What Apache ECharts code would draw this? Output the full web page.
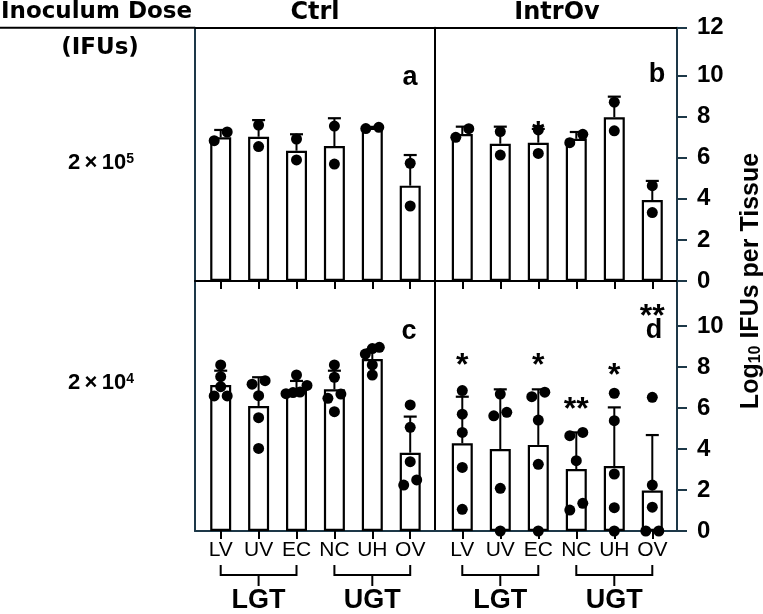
<!DOCTYPE html>
<html><head><meta charset="utf-8">
<script src="https://cdn.jsdelivr.net/npm/echarts@6/dist/echarts.min.js"></script>
<style>html,body{margin:0;padding:0;background:#fff}#c{width:763px;height:614px}</style>
</head><body><div id="c"></div>
<script>
// ---------------- data ----------------
const categories = ['LV', 'UV', 'EC', 'NC', 'UH', 'OV'];
const groupNames = ['LGT', 'UGT'];
const groupFirst = [0, 3];
const groupLast = [2, 5];
const columnTitles = ['Ctrl', 'IntrOv'];
const rowBase = ['2\u2009×\u200910', '2\u2009×\u200910'];
const rowExp = ['5', '4'];
const panelLetters = ['a', 'b', 'c', 'd'];
const topTickValues = [0, 2, 4, 6, 8, 10, 12];
const bottomTickValues = [0, 2, 4, 6, 8, 10];

// panel a: Ctrl, 2x10^5
const meanA = [6.99, 7.02, 6.34, 6.57, 7.45, 4.64];
const sdA = [0.36, 0.81, 0.80, 1.35, 0.05, 1.49];
const ptsA = [[6.83, 7.25], [7.59, 6.54], [6.91, 5.89], [7.54, 5.69], [7.42, 7.48], [5.73, 3.65]];
// panel b: IntrOv, 2x10^5
const meanB = [7.15, 6.68, 6.73, 6.92, 7.97, 3.94];
const sdB = [0.36, 0.83, 0.67, 0.33, 1.00, 0.93];
const ptsB = [[6.99, 7.41], [7.27, 6.13], [7.35, 6.21], [6.73, 7.14], [8.70, 7.31], [4.64, 3.33]];
// panel c: Ctrl, 2x10^4
const meanC = [7.12, 6.10, 6.88, 6.91, 8.39, 3.82];
const sdC = [0.70, 1.40, 0.44, 0.91, 0.47, 1.76];
const ptsC = [[8.10, 7.53, 7.04, 6.59, 6.59], [7.33, 7.16, 6.60, 5.53, 4.03], [7.61, 7.10, 6.78, 6.75, 6.70],
              [8.10, 7.50, 6.68, 6.47, 5.82], [8.96, 8.90, 8.63, 8.10, 7.61], [6.15, 5.06, 3.38, 2.24, 2.49]];
// panel d: IntrOv, 2x10^4
const meanD = [4.28, 4.00, 4.20, 3.02, 3.17, 1.97];
const sdD = [2.27, 2.91, 2.71, 1.79, 2.86, 2.71];
const ptsD = [[6.85, 5.70, 4.81, 3.10, 1.06], [6.68, 5.62, 5.79, 2.08, 0], [6.77, 6.55, 5.41, 3.25, 0],
              [4.81, 4.65, 3.43, 1.35, 1.02], [6.72, 5.38, 2.78, 1.14, 0], [6.52, 2.24, 1.16, 0, 0]];
// significance marks
const sigCatB = [2]; const sigTextB = ['*']; const sigYB = [7.51];
const sigCatD = [0, 2, 3, 4, 5]; const sigTextD = ['*', '*', '**', '*', '**']; const sigYD = [8.44, 8.44, 6.3, 7.95, 10.8];

// ---------------- layout ----------------
const NAVY = '#1d3848';
const FL = 195, FM = 435, FR = 677, FT = 27.7, FMY = 281, FB = 531;
const TOP_MAX = 12.326, BOT_MAX = 12.195;
const LEFT_X = [-0.678, 5.654], RIGHT_X = [-0.718, 5.65];
const ROW_T = 9, SPACING2 = 13, SPACING3 = 7, DOT_R = 5.5;

const panels = [
  {mean: meanA, sd: sdA, pts: ptsA, sigC: [], sigT: [], sigY: [], pxu: (FMY - FT) / TOP_MAX},
  {mean: meanB, sd: sdB, pts: ptsB, sigC: sigCatB, sigT: sigTextB, sigY: sigYB, pxu: (FMY - FT) / TOP_MAX},
  {mean: meanC, sd: sdC, pts: ptsC, sigC: [], sigT: [], sigY: [], pxu: (FB - FMY) / BOT_MAX},
  {mean: meanD, sd: sdD, pts: ptsD, sigC: sigCatD, sigT: sigTextD, sigY: sigYD, pxu: (FB - FMY) / BOT_MAX}
];

// simple row-based beeswarm: close values are spread side by side
function swarm(values, pxu) {
  const order = values.map((v, i) => i).sort((a, b) => values[a] - values[b]);
  const dx = values.map(() => 0);
  let row = [];
  const flush = () => {
    const sp = row.length > 2 ? SPACING3 : SPACING2;
    row.forEach((k, j) => { dx[k] = (j - (row.length - 1) / 2) * sp; });
  };
  order.forEach(k => {
    if (row.length && (values[k] - values[row[0]]) * pxu < ROW_T) row.push(k);
    else { flush(); row = [k]; }
  });
  flush();
  return dx;
}

const grid = [
  {left: FL, top: FT, width: FM - FL, height: FMY - FT},
  {left: FM, top: FT, width: FR - FM, height: FMY - FT},
  {left: FL, top: FMY, width: FM - FL, height: FB - FMY},
  {left: FM, top: FMY, width: FR - FM, height: FB - FMY}
];

const catIdx = categories.map((c, i) => i);
function xAx(gi, opts) {
  const r = (gi % 2 === 0) ? LEFT_X : RIGHT_X;
  return Object.assign({
    type: 'value', gridIndex: gi, min: r[0], max: r[1], splitLine: {show: false},
    axisLine: {show: true, onZero: false, lineStyle: {color: '#000', width: 2}},
    axisTick: {show: false}, axisLabel: {show: false}
  }, opts);
}
const catLabel = {show: true, customValues: catIdx, formatter: v => categories[Math.round(v)], margin: 9,
                  color: '#000', fontSize: 21, fontFamily: 'Liberation Sans'};
const xAxis = [
  xAx(0, {axisTick: {show: true, customValues: catIdx, length: 8, lineStyle: {color: '#000', width: 2}}}),
  xAx(1, {axisTick: {show: true, customValues: catIdx, length: 8, lineStyle: {color: '#000', width: 2}}}),
  xAx(2, {axisLine: {show: true, onZero: false, lineStyle: {color: NAVY, width: 2}},
          axisTick: {show: true, customValues: catIdx, length: 8, lineStyle: {color: '#000', width: 2}},
          axisLabel: catLabel}),
  xAx(3, {axisLine: {show: true, onZero: false, lineStyle: {color: NAVY, width: 2}},
          axisTick: {show: true, customValues: catIdx, length: 8, lineStyle: {color: '#000', width: 2}},
          axisLabel: catLabel}),
  xAx(0, {position: 'top'}),
  xAx(1, {position: 'top'})
];

function yAx(gi, opts) {
  return Object.assign({
    type: 'value', gridIndex: gi, min: 0, max: gi < 2 ? TOP_MAX : BOT_MAX, splitLine: {show: false},
    axisLine: {show: true, onZero: false, lineStyle: {color: NAVY, width: 2}},
    axisTick: {show: false}, axisLabel: {show: false}
  }, opts);
}
const tickLabelStyle = {color: '#000', fontSize: 24, fontWeight: 'bold', fontFamily: 'Liberation Sans', margin: 20};
// the top tick of the upper panels sits on the frame's top edge
const topTickPos = topTickValues.map((v, i) => i === topTickValues.length - 1 ? TOP_MAX : v);
const yAxis = [
  yAx(0, {}),
  yAx(1, {axisLine: {show: true, onZero: false, lineStyle: {color: '#000', width: 2}}}),
  yAx(2, {}),
  yAx(3, {axisLine: {show: true, onZero: false, lineStyle: {color: '#000', width: 2}}}),
  yAx(1, {position: 'right',
          axisTick: {show: true, customValues: topTickPos, length: 10, lineStyle: {color: NAVY, width: 2}},
          axisLabel: Object.assign({show: true, customValues: topTickPos,
            formatter: v => {
              let best = 0;
              topTickPos.forEach((t, i) => { if (Math.abs(t - v) < Math.abs(topTickPos[best] - v)) best = i; });
              return String(topTickValues[best]);
            }}, tickLabelStyle)}),
  yAx(3, {position: 'right',
          axisTick: {show: true, customValues: bottomTickValues, length: 10, lineStyle: {color: NAVY, width: 2}},
          axisLabel: Object.assign({show: true, customValues: bottomTickValues, formatter: v => String(Math.round(v))}, tickLabelStyle)})
];

const series = [];
panels.forEach((p, gi) => {
  series.push({
    type: 'bar', xAxisIndex: gi, yAxisIndex: gi, barWidth: 21, z: 2, silent: true,
    data: p.mean.map((m, i) => [i, m]),
    itemStyle: {color: '#fff', borderColor: '#000', borderWidth: 2.2}
  });
  series.push({
    type: 'custom', xAxisIndex: gi, yAxisIndex: gi, z: 3, silent: true,
    data: p.mean.map((m, i) => [i, m, p.sd[i]]), encode: {x: 0, y: 1},
    renderItem: (params, api) => {
      const x = api.value(0), m = api.value(1), s = api.value(2);
      const b = api.coord([x, m]), t = api.coord([x, m + s]);
      return {type: 'group', children: [
        {type: 'line', shape: {x1: b[0], y1: b[1], x2: t[0], y2: t[1]}, style: {stroke: '#000', lineWidth: 2}},
        {type: 'line', shape: {x1: t[0] - 6.5, y1: t[1], x2: t[0] + 6.5, y2: t[1]}, style: {stroke: '#000', lineWidth: 2.2}}
      ]};
    }
  });
  const dots = [];
  p.pts.forEach((vals, i) => {
    const dx = swarm(vals, p.pxu);
    vals.forEach((v, k) => dots.push([i, v, dx[k]]));
  });
  series.push({
    type: 'custom', xAxisIndex: gi, yAxisIndex: gi, z: 4, silent: true, clip: false,
    data: dots, encode: {x: 0, y: 1},
    renderItem: (params, api) => {
      const c = api.coord([api.value(0), api.value(1)]);
      return {type: 'circle', shape: {cx: c[0] + api.value(2), cy: c[1], r: DOT_R}, style: {fill: '#000'}};
    }
  });
  if (p.sigC.length) {
    series.push({
      type: 'custom', xAxisIndex: gi, yAxisIndex: gi, z: 5, silent: true, clip: false,
      data: p.sigC.map((c, k) => [c, p.sigY[k], k]), encode: {x: 0, y: 1},
      renderItem: (params, api) => {
        const c = api.coord([api.value(0), api.value(1)]);
        return {type: 'text', x: c[0], y: c[1] + 8, style: {text: p.sigT[api.value(2)], fill: '#000',
          font: 'bold 32px "Liberation Sans"', textAlign: 'center', textVerticalAlign: 'middle'}};
      }
    });
  }
  if (gi >= 2) {
    series.push({
      type: 'custom', xAxisIndex: gi, yAxisIndex: gi, z: 5, silent: true, clip: false,
      data: groupNames.map((g, k) => [groupFirst[k], groupLast[k], k]),
      renderItem: (params, api) => {
        const a = api.coord([api.value(0), 0]), b = api.coord([api.value(1), 0]);
        const y0 = a[1], mid = (a[0] + b[0]) / 2;
        return {type: 'group', children: [
          {type: 'polyline', shape: {points: [[a[0], y0 + 34], [a[0], y0 + 44], [b[0], y0 + 44], [b[0], y0 + 34]]},
           style: {stroke: '#000', lineWidth: 2, fill: null}},
          {type: 'line', shape: {x1: mid, y1: y0 + 44, x2: mid, y2: y0 + 55}, style: {stroke: '#000', lineWidth: 2}},
          {type: 'text', x: mid, y: y0 + 70, style: {text: groupNames[api.value(2)], fill: '#000',
            font: 'bold 27px "Liberation Sans"', textAlign: 'center', textVerticalAlign: 'middle'}}
        ]};
      }
    });
  }
});

const boldFont = '"DejaVu Sans"';
const letterFont = 'bold 27px "Liberation Sans"';
const graphic = [
  {type: 'line', shape: {x1: 0, y1: FT, x2: FL, y2: FT}, style: {stroke: '#000', lineWidth: 2}},
  {type: 'text', x: 1, y: 12.5, style: {text: 'Inoculum Dose', font: 'bold 23px ' + boldFont, fill: '#000', textVerticalAlign: 'middle'}},
  {type: 'text', x: 100, y: 48, style: {text: '(IFUs)', font: 'bold 23px ' + boldFont, fill: '#000', textAlign: 'center', textVerticalAlign: 'middle'}},
  {type: 'text', x: (FL + FM) / 2, y: 12.5, style: {text: columnTitles[0], font: 'bold 24px ' + boldFont, fill: '#000', textAlign: 'center', textVerticalAlign: 'middle'}},
  {type: 'text', x: (FM + FR) / 2 + 1, y: 12.5, style: {text: columnTitles[1], font: 'bold 24px ' + boldFont, fill: '#000', textAlign: 'center', textVerticalAlign: 'middle'}},
  {type: 'text', x: 751, y: 281, rotation: Math.PI / 2, style: {
    text: '{m|Log}{s|10}{m| IFUs per Tissue}', textAlign: 'center', textVerticalAlign: 'middle',
    rich: {m: {fontSize: 25, fontWeight: 'bold', fontFamily: 'Liberation Sans', fill: '#000'},
           s: {fontSize: 16, fontWeight: 'bold', fontFamily: 'Liberation Sans', fill: '#000', verticalAlign: 'bottom'}}}},
  {type: 'text', x: 410, y: 78, style: {text: panelLetters[0], font: letterFont, fill: '#000', textAlign: 'center', textVerticalAlign: 'middle'}},
  {type: 'text', x: 657, y: 75, style: {text: panelLetters[1], font: letterFont, fill: '#000', textAlign: 'center', textVerticalAlign: 'middle'}},
  {type: 'text', x: 409, y: 332, style: {text: panelLetters[2], font: letterFont, fill: '#000', textAlign: 'center', textVerticalAlign: 'middle'}},
  {type: 'text', x: 654, y: 331, style: {text: panelLetters[3], font: letterFont, fill: '#000', textAlign: 'center', textVerticalAlign: 'middle'}}
];
[163, 383].forEach((y, k) => {
  graphic.push({type: 'text', x: 101, y: y, style: {
    text: '{n|' + rowBase[k] + '}{e|' + rowExp[k] + '}', textAlign: 'center', textVerticalAlign: 'middle',
    rich: {n: {fontSize: 22, fontWeight: 'bold', fontFamily: 'Liberation Sans', fill: '#000'},
           e: {fontSize: 14, fontWeight: 'bold', fontFamily: 'Liberation Sans', fill: '#000', verticalAlign: 'top'}}}});
});

const chart = echarts.init(document.getElementById('c'), null, {renderer: 'canvas'});
chart.setOption({animation: false, grid, xAxis, yAxis, series, graphic});
</script></body></html>
